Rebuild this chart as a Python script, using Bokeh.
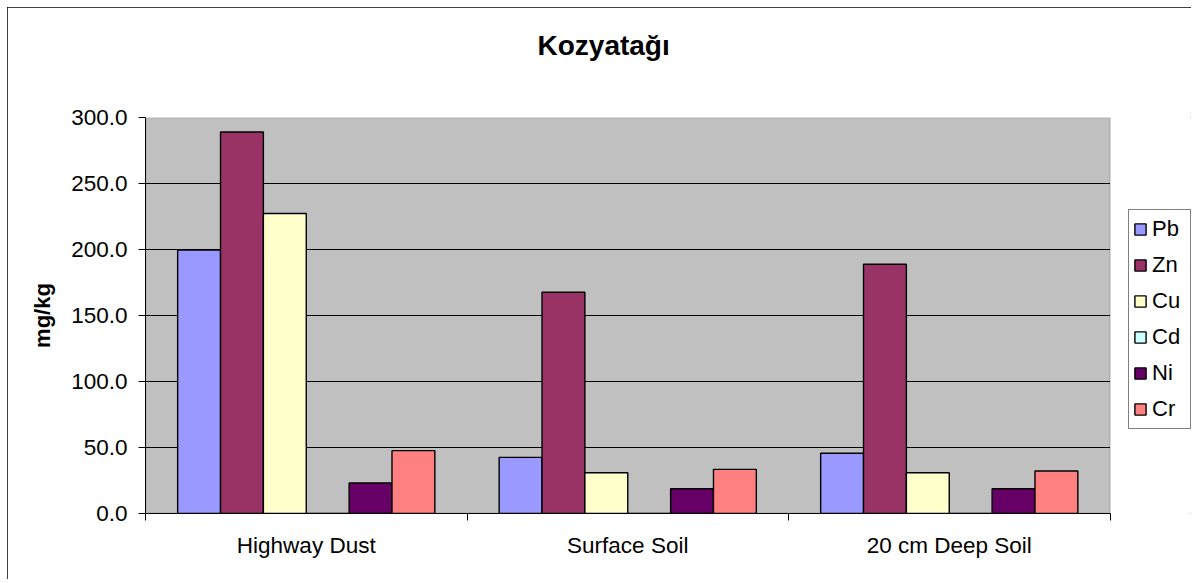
import numpy as np
from bokeh.plotting import figure
from bokeh.models import (Range1d, FixedTicker, LinearAxis, NumeralTickFormatter,
                          Legend, LegendItem, ColumnDataSource, BoxAnnotation)
from bokeh.embed import file_html
from bokeh.resources import INLINE

# ---- data ----
categories = ["Highway Dust", "Surface Soil", "20 cm Deep Soil"]
series = ["Pb", "Zn", "Cu", "Cd", "Ni", "Cr"]
Pb = [199.5, 42.5, 45.6]
Zn = [289.0, 167.6, 188.8]
Cu = [227.3, 30.9, 30.9]
Cd = [0.0, 0.0, 0.0]
Ni = [23.1, 18.8, 18.8]
Cr = [47.6, 33.4, 32.2]
values = [Pb, Zn, Cu, Cd, Ni, Cr]
colors = ["#9999FF", "#993366", "#FFFFCC", "#CCFFFF", "#660066", "#FF8080"]
y_ticks = [0, 50, 100, 150, 200, 250, 300]
y_max = 300

FONT = "Liberation Sans"

# ---- layout (pixels) ----
W, H = 1184, 572
LEFT, TOP, BOTTOM, RIGHT = 138, 110, 66, 0
CAT_PX = 964.5                      # width of the grey plot area
n = len(categories)
frame_w = W - LEFT - RIGHT
x_end = n * frame_w / CAT_PX        # frame extends right to hold the legend

p = figure(width=W, height=H, output_backend="svg", toolbar_location=None,
           x_range=Range1d(0, x_end), y_range=Range1d(0, y_max),
           x_axis_type=None, y_axis_type=None,
           min_border_left=LEFT, min_border_right=RIGHT, min_border_top=TOP,
           min_border_bottom=BOTTOM)
p.margin = (7, 0, 0, 7)
p.background_fill_color = "white"
p.border_fill_color = "white"
p.outline_line_color = None
p.styles = {"outline": "1px solid black", "outline-offset": "-1px"}

# grey plot area
p.add_layout(BoxAnnotation(left=0, right=n, bottom=0, top=y_max,
                           fill_color="#C0C0C0", fill_alpha=1,
                           line_color="#808080", line_width=2, level="underlay"))

# title
p.title.text = "Kozyatağı"
p.title.text_font = FONT
p.title.text_font_size = "28px"
p.title.text_font_style = "bold"
p.title.text_color = "black"
p.title.align = "left"
p.title.offset = 392
p.title.standoff = 10

# invisible spacer axis above the frame (pushes the title upward)
spacer = LinearAxis(ticker=FixedTicker(ticks=[0.5], minor_ticks=[]))
spacer.major_label_overrides = {0.5: ""}
spacer.axis_line_color = None
spacer.major_tick_line_color = None
spacer.minor_tick_line_color = None
spacer.major_tick_in = 0
spacer.major_tick_out = 52
spacer.minor_tick_in = 0
spacer.minor_tick_out = 0
spacer.major_label_text_font_size = "0px"
spacer.major_label_standoff = 0
p.add_layout(spacer, "above")

# y axis
yax = LinearAxis(ticker=FixedTicker(ticks=y_ticks, minor_ticks=[]),
                 formatter=NumeralTickFormatter(format="0.0"))
yax.axis_label = "mg/kg"
yax.axis_label_text_font = FONT
yax.axis_label_text_font_size = "22px"
yax.axis_label_text_font_style = "bold"
yax.axis_label_text_color = "black"
yax.axis_label_standoff = 13
yax.major_label_text_font = FONT
yax.major_label_text_font_size = "22.5px"
yax.major_label_text_color = "black"
yax.major_label_standoff = 11
yax.major_tick_in = 0
yax.major_tick_out = 7
yax.major_tick_line_color = "black"
yax.axis_line_color = "black"
p.add_layout(yax, "left")

# x axis: labels at category centres, tick marks at category boundaries
centres = [i + 0.5 for i in range(n)]
xax = LinearAxis(ticker=FixedTicker(ticks=centres, minor_ticks=list(range(n + 1))),
                 bounds=(0, n))
xax.major_label_overrides = {c: lab for c, lab in zip(centres, categories)}
xax.major_tick_line_color = None
xax.major_tick_in = 0
xax.major_tick_out = 0
xax.minor_tick_in = 0
xax.minor_tick_out = 7
xax.minor_tick_line_color = "black"
xax.axis_line_color = "black"
xax.major_label_text_font = FONT
xax.major_label_text_font_size = "22.5px"
xax.major_label_text_color = "black"
xax.major_label_standoff = 12
p.add_layout(xax, "below")

# grid lines only across the grey area
p.xgrid.grid_line_color = None
p.ygrid.grid_line_color = None
inner = y_ticks[1:-1]
p.segment(x0=[0] * len(inner), x1=[n] * len(inner), y0=inner, y1=inner,
          line_color="black", line_width=1)

# bars
group = 0.8
bw = group / len(series)
xs = np.arange(n) + 0.5
items = []
for i, (name, vals, col) in enumerate(zip(series, values, colors)):
    off = -group / 2 + bw / 2 + i * bw
    src = ColumnDataSource(dict(x=xs + off, top=vals))
    r = p.vbar(x="x", top="top", bottom=0, width=bw, source=src,
               fill_color=col, line_color="black", line_width=1.4)
    items.append(LegendItem(label=name, renderers=[r]))

legend = Legend(items=items, location=(983, 84))
legend.label_text_font = FONT
legend.label_text_font_size = "22px"
legend.label_text_color = "black"
legend.glyph_width = 14
legend.glyph_height = 14
legend.label_standoff = 5
legend.label_height = 30
legend.label_width = 34
legend.spacing = 6
legend.padding = 4
legend.margin = 0
legend.border_line_color = "black"
legend.border_line_width = 1
legend.background_fill_color = "white"
legend.background_fill_alpha = 1
p.add_layout(legend, "center")

open("out.html", "w").write(file_html(p, INLINE))
